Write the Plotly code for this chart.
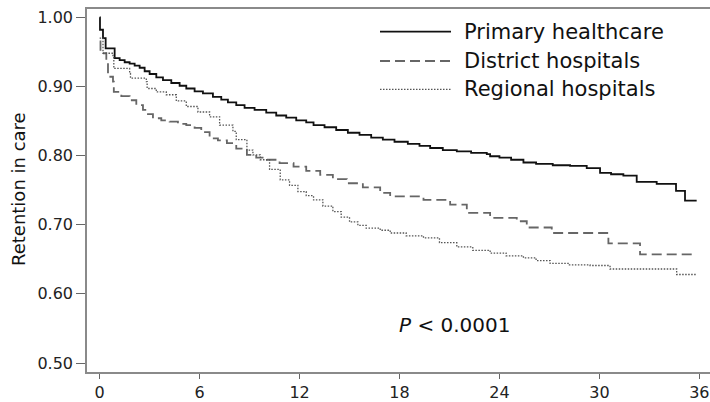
import plotly.graph_objects as go

# Kaplan-Meier estimates (months, proportion retained)
primary_t = [0, 0.02, 0.2, 0.36, 0.9, 1.2, 1.5, 1.8, 2.1, 2.4, 2.7, 3.0, 3.4, 3.8, 4.3, 4.8, 5.2,
             5.7, 6.2, 6.8, 7.3, 7.7, 8.2, 8.7, 9.3, 10.0, 10.6, 11.2, 11.8, 12.4, 12.84, 13.5,
             14.2, 14.9, 15.6, 16.3, 17.0, 17.7, 18.5, 19.2, 19.84, 20.6, 21.44, 22.3, 23.24,
             23.44, 24.0, 24.7, 25.44, 26.2, 27.2, 28.24, 29.24, 30.04, 30.7, 31.44, 32.24,
             33.44, 34.6, 35.14, 35.84]
primary_s = [1.00, 0.982, 0.970, 0.955, 0.941, 0.938, 0.935, 0.933, 0.930, 0.927, 0.922, 0.918,
             0.913, 0.909, 0.905, 0.901, 0.897, 0.893, 0.890, 0.885, 0.881, 0.877, 0.873, 0.869,
             0.866, 0.862, 0.858, 0.855, 0.851, 0.848, 0.844, 0.841, 0.837, 0.833, 0.830, 0.826,
             0.823, 0.820, 0.817, 0.814, 0.811, 0.808, 0.806, 0.804, 0.802, 0.799, 0.797, 0.794,
             0.790, 0.788, 0.786, 0.785, 0.782, 0.775, 0.773, 0.771, 0.762, 0.759, 0.749, 0.735,
             0.735]

district_t = [0, 0.05, 0.4, 0.5, 0.8, 0.85, 1.3, 1.8, 2.2, 2.6, 2.9, 3.2, 3.7, 4.2, 4.7, 5.2,
              5.7, 6.1, 6.6, 7.1, 7.64, 8.2, 8.84, 9.4, 10.04, 10.8, 11.64, 12.4, 13.24, 14.0,
              14.84, 15.8, 16.84, 17.44, 19.44, 21.04, 22.04, 23.44, 25.04, 25.64, 27.14,
              30.54, 32.44, 35.84]
district_s = [0.965, 0.948, 0.934, 0.914, 0.907, 0.892, 0.886, 0.880, 0.873, 0.866, 0.860, 0.854,
              0.851, 0.849, 0.846, 0.844, 0.840, 0.834, 0.825, 0.822, 0.818, 0.810, 0.801, 0.797,
              0.794, 0.789, 0.784, 0.778, 0.772, 0.766, 0.760, 0.754, 0.746, 0.741, 0.736, 0.729,
              0.717, 0.710, 0.705, 0.696, 0.688, 0.673, 0.657, 0.657]

regional_t = [0, 0.2, 0.8, 0.85, 1.8, 1.85, 2.8, 2.85, 3.4, 4.0, 4.6, 5.2, 5.9, 6.6, 7.2, 8.0,
              8.2, 8.84, 9.2, 9.64, 10.2, 10.84, 11.4, 11.9, 12.4, 12.84, 13.4, 14.0, 14.5, 15.0,
              15.5, 16.0, 16.84, 17.44, 18.4, 19.44, 20.4, 21.44, 22.4, 23.44, 24.4, 25.44, 26.2,
              27.04, 28.2, 29.44, 30.64, 34.64, 35.84]
regional_s = [0.970, 0.948, 0.943, 0.926, 0.919, 0.912, 0.907, 0.897, 0.892, 0.888, 0.879, 0.871,
              0.863, 0.856, 0.844, 0.835, 0.823, 0.808, 0.801, 0.794, 0.780, 0.765, 0.757, 0.748,
              0.742, 0.736, 0.727, 0.719, 0.711, 0.704, 0.699, 0.695, 0.692, 0.688, 0.684, 0.681,
              0.674, 0.668, 0.663, 0.659, 0.655, 0.652, 0.648, 0.644, 0.642, 0.641, 0.636, 0.628,
              0.628]

series_names = ["Primary healthcare", "District hospitals", "Regional hospitals"]
x_ticks = [0, 6, 12, 18, 24, 30, 36]
y_ticks = [0.50, 0.60, 0.70, 0.80, 0.90, 1.00]

FONT = "DejaVu Sans"
styles = [
    dict(color="#111111", width=1.8, dash="solid"),
    dict(color="#666666", width=1.8, dash="10px,5px"),
    dict(color="#555555", width=1.3, dash="1.5px,1.5px"),
]

fig = go.Figure()
for t, s, name, st in zip([primary_t, district_t, regional_t],
                          [primary_s, district_s, regional_s], series_names, styles):
    fig.add_trace(go.Scatter(x=t, y=s, mode="lines", line_shape="hv", name=name,
                             line=st, showlegend=False))

W, H = 710, 402
ml, mr, mt, mb = 87, 0, 9, 30
pw = W - ml - mr
ph = H - mt - mb

def px_to_paper_x(px):
    return (px - ml) / pw

def px_to_paper_y(py):
    return 1 - (py - mt) / ph

# legend drawn manually
legend_rows = [31.7, 61.0, 89.3]
for name, st, yy in zip(series_names, styles, legend_rows):
    fig.add_shape(type="line", xref="paper", yref="paper",
                  x0=px_to_paper_x(380), x1=px_to_paper_x(451),
                  y0=px_to_paper_y(yy), y1=px_to_paper_y(yy), line=st)
    fig.add_annotation(text=name, xref="paper", yref="paper", x=px_to_paper_x(462),
                       y=px_to_paper_y(yy), xanchor="left", yanchor="middle", showarrow=False,
                       font=dict(family=FONT, size=21, color="#111111"))

fig.add_annotation(text="<i>P</i> < 0.0001", xref="paper", yref="paper",
                   x=px_to_paper_x(397), y=px_to_paper_y(325), xanchor="left", yanchor="middle",
                   showarrow=False, font=dict(family=FONT, size=20, color="#111111"))

fig.add_annotation(text="Retention in care", xref="paper", yref="paper",
                   x=px_to_paper_x(18), y=px_to_paper_y(189), textangle=-90,
                   xanchor="center", yanchor="middle", showarrow=False,
                   font=dict(family=FONT, size=18, color="#111111"))

fig.update_layout(
    width=W, height=H,
    margin=dict(l=ml, r=mr, t=mt, b=mb),
    paper_bgcolor="white", plot_bgcolor="white",
    xaxis=dict(range=[-0.76, 36.64], tickvals=x_ticks, ticktext=[str(v) for v in x_ticks],
               showgrid=False, zeroline=False, showline=True, linecolor="#8a8a8a", linewidth=1.5,
               mirror=True, ticks="outside", ticklen=5, tickwidth=1.3, tickcolor="#666666",
               tickfont=dict(family=FONT, size=16, color="#222222")),
    yaxis=dict(range=[0.487, 1.012], tickvals=y_ticks, tickformat=".2f",
               showgrid=False, zeroline=False, showline=True, linecolor="#8a8a8a", linewidth=1.5,
               ticks="outside", ticklen=9, tickwidth=1.3, tickcolor="#666666",
               tickfont=dict(family=FONT, size=16, color="#222222")),
)

fig.write_html("out.html")
